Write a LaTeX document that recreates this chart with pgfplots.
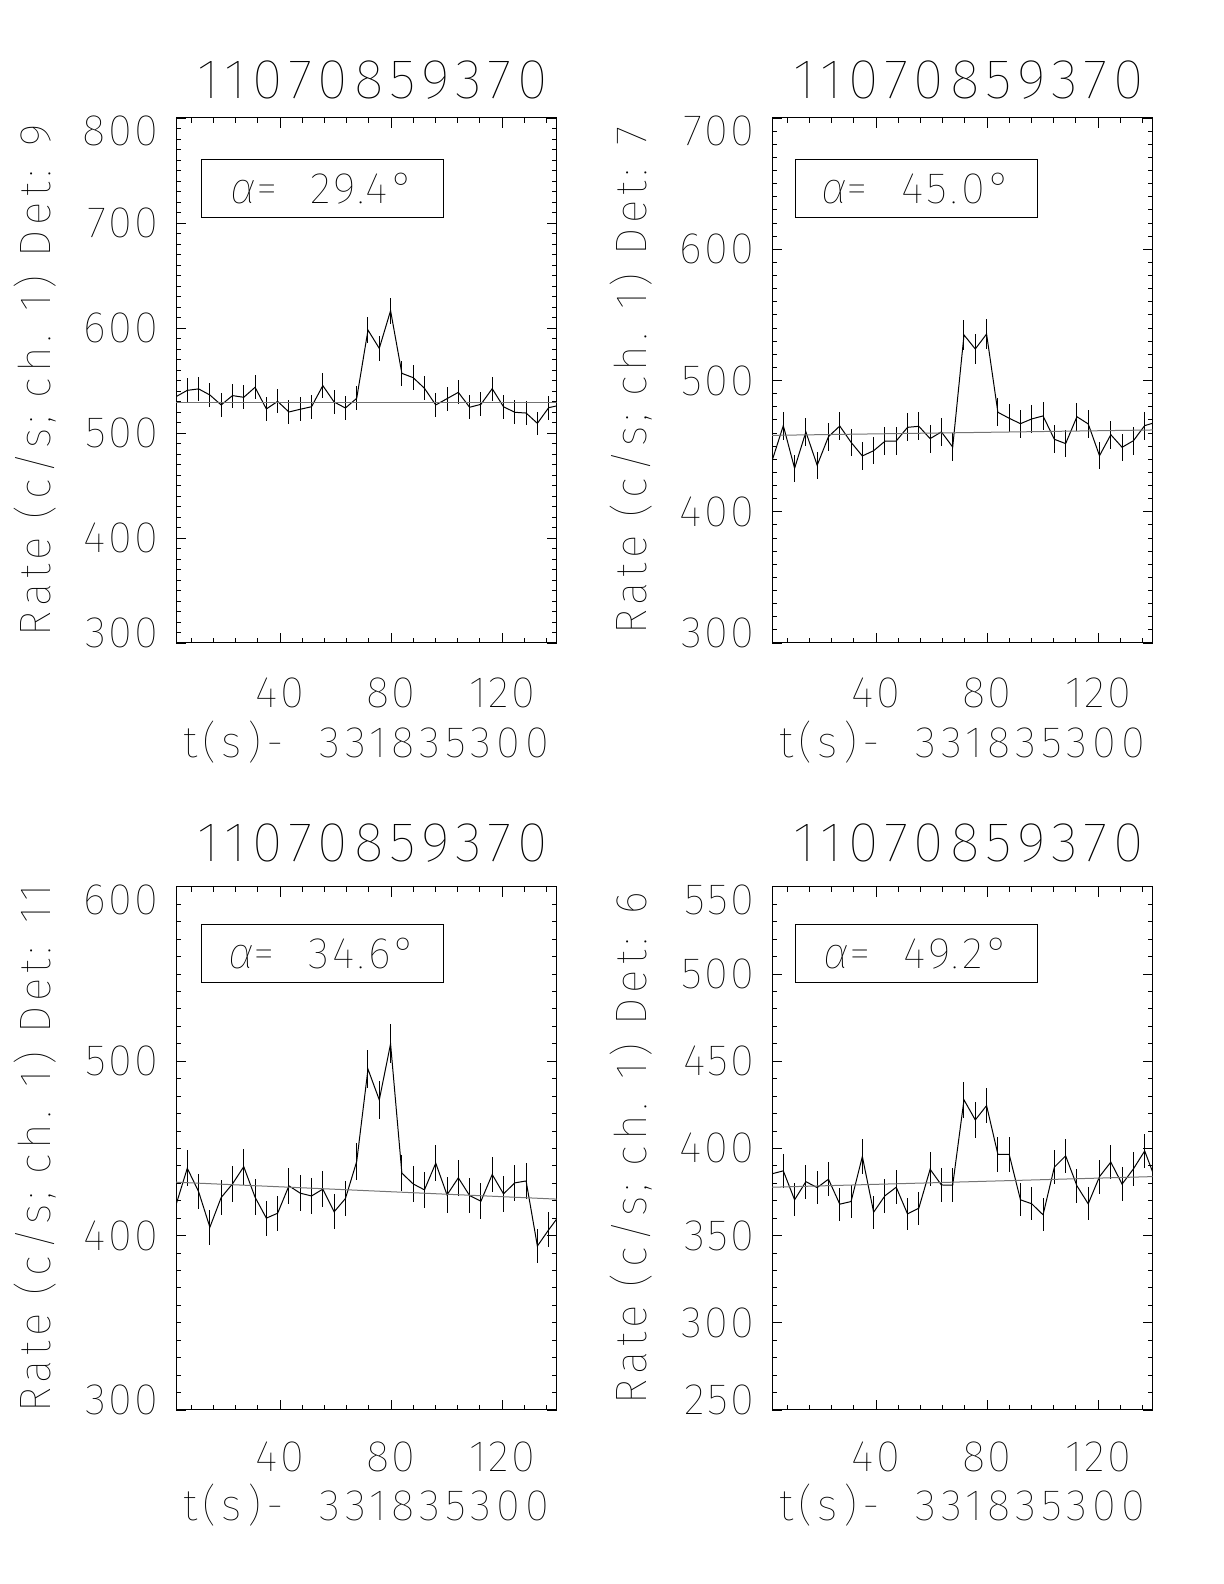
\documentclass[border=0pt]{standalone}
\usepackage{fontspec}
\setmainfont{Fira Sans}[UprightFont={* Thin}, ItalicFont={* Thin Italic}, LetterSpace=8]
\usepackage{pgfplots}
\pgfplotsset{compat=1.18}
\usepackage{pgfplotstable}

% rate curves, columns: time, rate, error
\pgfplotstableread{
x y e
2.50 534.6 11.5
6.57 540.6 11.5
10.64 542.0 11.5
14.71 536.2 11.5
18.78 526.7 11.4
22.85 535.6 11.5
26.92 534.0 11.5
30.99 543.5 11.6
35.06 522.9 11.3
39.13 530.1 11.4
43.20 520.0 11.3
47.27 522.6 11.3
51.34 525.0 11.4
55.41 545.1 11.6
59.48 529.5 11.4
63.55 523.8 11.3
67.62 533.0 11.4
71.69 598.0 12.1
75.76 580.6 11.9
79.83 616.5 12.3
83.90 556.8 11.7
87.97 552.7 11.7
92.04 542.6 11.5
96.11 526.7 11.4
100.18 532.7 11.4
104.25 538.7 11.5
108.32 524.5 11.4
112.39 527.3 11.4
116.46 542.2 11.5
120.53 525.0 11.4
124.60 519.7 11.3
128.67 519.0 11.3
132.74 509.2 11.2
136.81 524.1 11.3
140.88 526.5 11.4
}\detnine

\pgfplotstableread{
x y e
2.50 438.7 10.4
6.57 465.6 10.7
10.64 433.1 10.3
14.71 460.8 10.6
18.78 435.4 10.3
22.85 457.2 10.6
26.92 465.3 10.7
30.99 452.9 10.5
35.06 442.5 10.4
39.13 446.5 10.5
43.20 453.7 10.6
47.27 453.9 10.6
51.34 464.3 10.7
55.41 465.1 10.7
59.48 455.7 10.6
63.55 460.8 10.6
67.62 449.3 10.5
71.69 534.7 11.5
75.76 524.0 11.3
79.83 535.4 11.5
83.90 475.8 10.8
87.97 471.2 10.8
92.04 467.1 10.7
96.11 470.7 10.8
100.18 473.0 10.8
104.25 455.2 10.6
108.32 451.9 10.5
112.39 472.4 10.8
116.46 466.9 10.7
120.53 442.7 10.4
124.60 458.7 10.6
128.67 449.1 10.5
132.74 454.1 10.6
136.81 465.6 10.7
140.88 468.2 10.7
}\detseven

\pgfplotstableread{
x y e
2.50 417.6 10.1
6.57 438.6 10.4
10.64 425.2 10.2
14.71 404.8 10.0
18.78 421.8 10.2
22.85 429.6 10.3
26.92 439.5 10.4
30.99 422.0 10.2
35.06 410.0 10.0
39.13 412.8 10.1
43.20 428.5 10.3
47.27 424.3 10.2
51.34 422.7 10.2
55.41 426.6 10.2
59.48 413.6 10.1
63.55 421.2 10.2
67.62 442.4 10.4
71.69 495.4 11.0
75.76 477.8 10.8
79.83 509.9 11.2
83.90 435.8 10.3
87.97 429.6 10.3
92.04 426.2 10.2
96.11 441.5 10.4
100.18 423.3 10.2
104.25 433.1 10.3
108.32 422.9 10.2
112.39 419.7 10.2
116.46 435.0 10.3
120.53 423.9 10.2
124.60 430.2 10.3
128.67 431.3 10.3
132.74 394.0 9.8
136.81 403.3 10.0
140.88 412.0 10.1
}\deteleven

\pgfplotstableread{
x y e
2.50 385.4 9.7
6.57 387.1 9.8
10.64 370.5 9.5
14.71 380.9 9.7
18.78 377.5 9.6
22.85 382.3 9.7
26.92 368.0 9.5
30.99 369.5 9.5
35.06 395.3 9.9
39.13 363.4 9.4
43.20 372.8 9.6
47.27 377.7 9.6
51.34 362.4 9.4
55.41 365.7 9.5
59.48 388.0 9.8
63.55 379.0 9.6
67.62 378.9 9.6
71.69 427.8 10.3
75.76 416.3 10.1
79.83 424.5 10.2
83.90 396.6 9.9
87.97 396.6 9.9
92.04 370.5 9.5
96.11 368.2 9.5
100.18 361.9 9.4
104.25 389.2 9.8
108.32 395.7 9.9
112.39 378.5 9.6
116.46 368.2 9.5
120.53 383.8 9.7
124.60 392.1 9.8
128.67 379.5 9.7
132.74 388.2 9.8
136.81 398.5 9.9
140.88 381.4 9.7
}\detsix

\newcommand\lbl{\fontsize{22}{22}\selectfont}
\newcommand\albl{\fontsize{22}{22}\selectfont\addfontfeatures{LetterSpace=11}}
\newcommand\tlbl{\fontsize{22}{22}\selectfont\addfontfeatures{LetterSpace=5}}
% y tick label: the end labels sit a little inside the axis, as in the original
\newcommand\ylab[1]{%
  \ifnum\ticknum=0 \raisebox{5pt}[\height][\depth]{\pgfmathprintnumber{\tick}}%
  \else\ifnum\ticknum=#1 \raisebox{-6.5pt}[\height][\depth]{\pgfmathprintnumber{\tick}}%
  \else\pgfmathprintnumber{\tick}\fi\fi}

\pgfplotsset{
  lcpanel/.style={
    scale only axis, width=190.35pt,
    anchor=south west,
    xmin=2.5, xmax=139.7,
    xtick={40,80,120}, minor xtick={8,16,...,136},
    tick align=inside,
    major tick length=5pt, minor tick length=2.5pt,
    every tick/.style={black, line width=0.4pt},
    axis line style={line width=0.5pt},
    tick label style={font=\tlbl},
    label style={font=\albl},
    title style={font=\fontsize{28}{28}\selectfont\addfontfeatures{LetterSpace=11},
      at={(0.5,1)}, anchor=center, xshift=3pt},
    /pgf/number format/assume math mode=true,
    /pgf/number format/1000 sep={},
    yticklabel style={anchor=east, inner sep=0pt, xshift=-8.75pt},
    xticklabel style={anchor=center, inner sep=0pt},
    xlabel={t(s)-\ \ 331835300},
    ylabel style={at={(axis description cs:-0.370,0.5)}, anchor=center},
    title={11070859370},
  },
  toprow/.style={height=262.5pt,
    title style={yshift=13pt},
    xticklabel style={yshift=-25pt},
    xlabel style={at={(axis description cs:0.5,0)}, anchor=center, yshift=-49.5pt}},
  botrow/.style={height=261.65pt,
    title style={yshift=15.85pt},
    xticklabel style={yshift=-23.5pt},
    xlabel style={at={(axis description cs:0.5,0)}, anchor=center, yshift=-47.5pt}},
  rate/.style={black, line width=0.5pt, mark=none,
    error bars/.cd, y dir=both, y explicit, error mark=none,
    error bar style={line width=0.5pt}},
  fit/.style={black!55, line width=0.5pt, mark=none},
}
\tikzset{
  abox/.style={draw, line width=0.5pt, inner sep=0pt, minimum width=120.8pt,
    minimum height=29pt, anchor=north west, font=\lbl},
}

\begin{document}
\begin{tikzpicture}
\path[use as bounding box] (0,0) rectangle (612pt,792pt);

\begin{axis}[lcpanel, toprow, at={(88pt,470.5pt)},
  ymin=300, ymax=800, ytick={300,400,...,800}, minor ytick={300,310,...,800},
  yticklabel={\ylab{5}},
  ylabel={Rate (c/s; ch. 1) Det: 9}]
\addplot[rate] table[x=x, y=y, y error=e] {\detnine};
\addplot[fit] coordinates {(2.5,529.5) (139.7,529.5)};
\node[abox] at ([xshift=12.5pt,yshift=-20.5pt]rel axis cs:0,1) {{\itshape α}=\ \ 29.4°};
\end{axis}

\begin{axis}[lcpanel, toprow, at={(386pt,470.5pt)},
  ymin=300, ymax=700, ytick={300,400,...,700}, minor ytick={300,310,...,700},
  yticklabel={\ylab{4}},
  ylabel={Rate (c/s; ch. 1) Det: 7}]
\addplot[rate] table[x=x, y=y, y error=e] {\detseven};
\addplot[fit] coordinates {(2.5,458.2) (139.7,462.3)};
\node[abox] at ([xshift=11.5pt,yshift=-20.5pt]rel axis cs:0,1) {{\itshape α}=\ \ 45.0°};
\end{axis}

\begin{axis}[lcpanel, botrow, at={(88pt,87pt)},
  ymin=300, ymax=600, ytick={300,400,500,600}, minor ytick={300,310,...,600},
  yticklabel={\ylab{3}},
  ylabel={Rate (c/s; ch. 1) Det: 11}]
\addplot[rate] table[x=x, y=y, y error=e] {\deteleven};
\addplot[fit] coordinates {(2.5,430.6) (139.7,420.9)};
\node[abox] at ([xshift=12.5pt,yshift=-18.75pt]rel axis cs:0,1) {{\itshape α}=\ \ 34.6°};
\end{axis}

\begin{axis}[lcpanel, botrow, at={(386pt,87pt)},
  ymin=250, ymax=550, ytick={250,300,...,550}, minor ytick={250,260,...,550},
  yticklabel={\ylab{6}},
  ylabel={Rate (c/s; ch. 1) Det: 6}]
\addplot[rate] table[x=x, y=y, y error=e] {\detsix};
\addplot[fit] coordinates {(2.5,377.7) (139.7,383.8)};
\node[abox] at ([xshift=11.5pt,yshift=-18.75pt]rel axis cs:0,1) {{\itshape α}=\ \ 49.2°};
\end{axis}
\end{tikzpicture}
\end{document}
